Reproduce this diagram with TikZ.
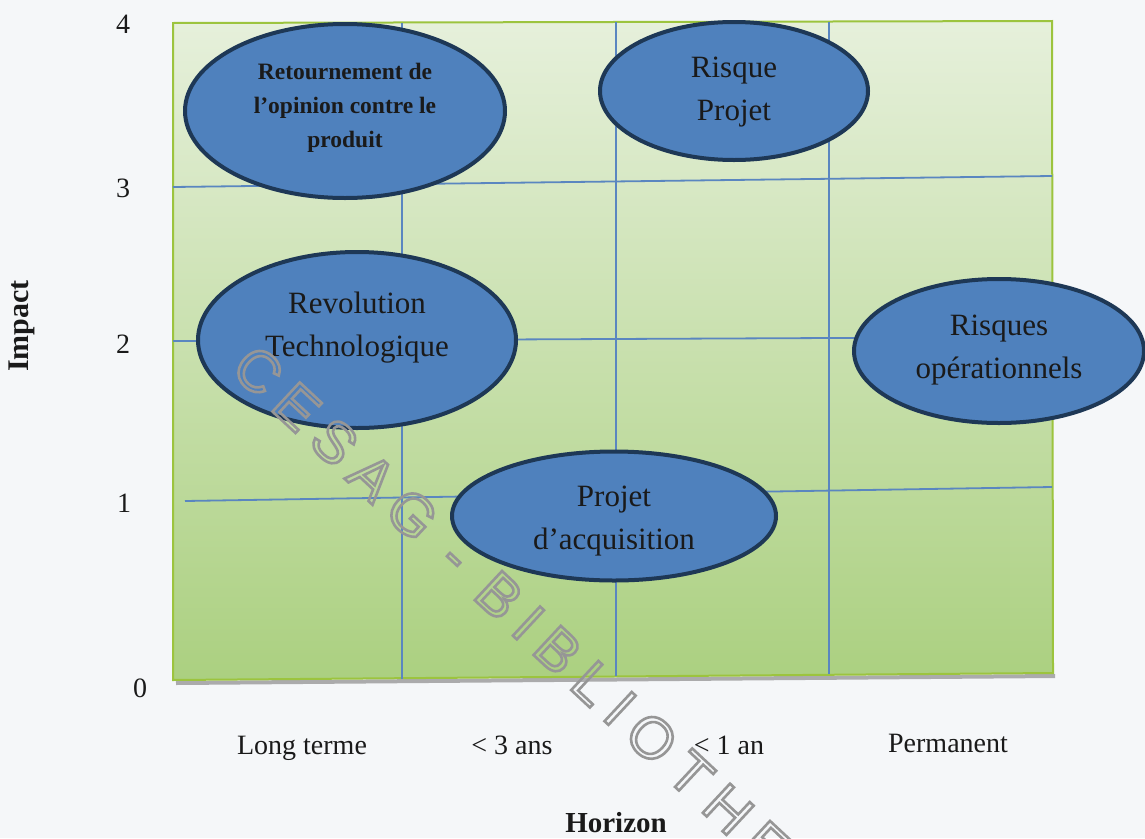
\documentclass[tikz,border=0pt]{standalone}
\usepackage{fontspec}
\setmainfont{Liberation Serif}
\newfontfamily\wmfont[LetterSpace=22]{Liberation Sans}
\usetikzlibrary{shapes.geometric}

\definecolor{pagebg}{HTML}{F5F7F9}
\definecolor{gridblue}{HTML}{5A86C0}
\definecolor{framegreen}{HTML}{9CC43E}
\definecolor{bgtop}{HTML}{E6F0DB}
\definecolor{bgbot}{HTML}{ABD080}
\definecolor{riskfill}{HTML}{4F81BD}
\definecolor{riskedge}{HTML}{1E3856}
\definecolor{inktext}{HTML}{1A1A1A}
\definecolor{wmgray}{HTML}{969696}
\definecolor{shadowgray}{HTML}{8C8C8C}

\begin{document}
\begin{tikzpicture}[x=1pt,y=-1pt,
  risk/.style={ellipse, draw=riskedge, fill=riskfill, line width=4pt, inner sep=0pt},
  risktext/.style={align=center, text=inktext, inner sep=0pt,
                   font=\fontsize{31}{43}\selectfont},
  smalltext/.style={align=center, text=inktext, inner sep=0pt,
                   font=\bfseries\fontsize{23.5}{34}\selectfont},
  axislabel/.style={text=inktext, anchor=base, inner sep=0pt,
                   font=\fontsize{28}{30}\selectfont},
  axistitle/.style={text=inktext, inner sep=0pt,
                   font=\bfseries\fontsize{29}{31}\selectfont},
  gridline/.style={draw=gridblue, line width=1.8pt}]

% page
\fill[pagebg] (0,0) rectangle (1145,838);
\useasboundingbox (0,0) rectangle (1145,838);

% plotting area with its drop shadow
\draw[shadowgray, line width=4pt, opacity=0.7] (176,683) -- (1055,676);
\shade[top color=bgtop, bottom color=bgbot]
  (173,23) -- (1052,21) -- (1053,673) -- (173,680) -- cycle;
\draw[framegreen, line width=2pt]
  (173,23) -- (1052,21) -- (1053,673) -- (173,680) -- cycle;

% grid
\coordinate (h3a) at (173,187);  \coordinate (h3b) at (1052,176);
\coordinate (h2a) at (173,341);  \coordinate (h2b) at (1052,337);
\coordinate (h1a) at (185,501);  \coordinate (h1b) at (1052,487);
\coordinate (v1a) at (402,23);   \coordinate (v1b) at (402,679);
\coordinate (v2a) at (616,22);   \coordinate (v2b) at (616,676);
\coordinate (v3a) at (829,22);   \coordinate (v3b) at (829,674);
\draw[gridline] (h3a) -- (h3b);
\draw[gridline] (h2a) -- (h2b);
\draw[gridline] (h1a) -- (h1b);
\draw[gridline] (v1a) -- (v1b);
\draw[gridline] (v2a) -- (v2b);
\draw[gridline] (v3a) -- (v3b);

% risks
\node[risk, minimum width=320pt, minimum height=174pt] (opinion) at (345,111) {};
\node[risk, minimum width=268pt, minimum height=138pt] (projet) at (734,91) {};
\node[risk, minimum width=318pt, minimum height=176pt] (revolution) at (357,340) {};
\node[risk, minimum width=290pt, minimum height=144pt] (operationnels) at (999,351) {};
\node[risk, minimum width=324pt, minimum height=129pt] (acquisition) at (614,516) {};

\node[smalltext] (opinion-txt) at (345,108) {Retournement de\\l’opinion contre le\\produit};
\node[risktext] (projet-txt) at (734,92) {Risque\\Projet};
\node[risktext] (revolution-txt) at (357,328) {Revolution\\Technologique};
\node[risktext] (operationnels-txt) at (999,350) {Risques\\opérationnels};
\node[risktext] (acquisition-txt) at (614,521) {Projet\\d’acquisition};

% impact scale
\node[axislabel] (imp4) at (123,33) {4};
\node[axislabel] (imp3) at (123,197) {3};
\node[axislabel] (imp2) at (123,353) {2};
\node[axislabel] (imp1) at (124,512) {1};
\node[axislabel] (imp0) at (140,697) {0};

% horizon scale
\node[axislabel] (hor-long) at (302,754) {Long terme};
\node[axislabel] (hor-3) at (512,754) {< 3 ans};
\node[axislabel] (hor-1) at (729,754) {< 1 an};
\node[axislabel] (hor-perm) at (948,752) {Permanent};

% axis titles
\node[axistitle, anchor=base] (horizon) at (616,832) {Horizon};
\node[axistitle, rotate=90, font=\bfseries\fontsize{30}{32}\selectfont] (impact) at (22,326) {Impact};

% library stamp, outlined letters
\node[rotate=-43, anchor=base west, inner sep=0pt, text=wmgray,
      font=\wmfont\fontsize{58}{58}\selectfont] (stamp) at (229,371)
  {\special{pdf:literal direct 1 Tr 2.6 w}CESAG - BIBLIOTHEQUE\special{pdf:literal direct 0 Tr}};
\end{tikzpicture}
\end{document}
